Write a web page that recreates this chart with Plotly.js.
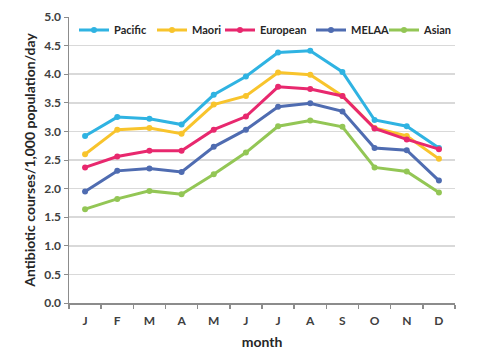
<!DOCTYPE html>
<html>
<head>
<meta charset="utf-8">
<script src="https://cdn.plot.ly/plotly-3.0.1.min.js"></script>
<style>
  html, body { margin: 0; padding: 0; background: #fff; }
  #chart { width: 480px; height: 355px; }
</style>
</head>
<body>
<div id="chart"></div>
<script>
const months = ['J','F','M','A','M','J','J','A','S','O','N','D'];
const pacific  = [2.92, 3.25, 3.22, 3.12, 3.64, 3.96, 4.38, 4.41, 4.04, 3.20, 3.09, 2.71];
const maori    = [2.60, 3.03, 3.06, 2.96, 3.47, 3.62, 4.03, 3.99, 3.62, 3.06, 2.92, 2.52];
const european = [2.37, 2.56, 2.66, 2.66, 3.03, 3.26, 3.78, 3.74, 3.62, 3.05, 2.86, 2.69];
const melaa    = [1.95, 2.31, 2.35, 2.29, 2.73, 3.03, 3.43, 3.49, 3.35, 2.71, 2.67, 2.14];
const asian    = [1.64, 1.82, 1.96, 1.90, 2.25, 2.63, 3.09, 3.19, 3.08, 2.37, 2.30, 1.93];

const seriesNames = ['Pacific','Maori','European','MELAA','Asian'];
const seriesData = [pacific, maori, european, melaa, asian];
const colors = ['#2fb3e2','#f8c42c','#e8286e','#4f6cb1','#93c655'];

const idx = months.map((m, i) => i);
const legendIds = ['legend','legend2','legend3','legend4','legend5'];
const traces = seriesData.map((d, k) => ({
  x: idx, y: d, name: seriesNames[k], type: 'scatter', mode: 'lines+markers',
  legend: legendIds[k],
  line: {color: colors[k], width: 3},
  marker: {color: colors[k], size: 6}
}));

const fontFam = 'Lato, "Open Sans", sans-serif';
const M = {l: 69, r: 25, t: 17, b: 52};
const W = 480, H = 355;
const plotW = W - M.l - M.r, plotH = H - M.t - M.b;
// left edge (px) of each legend box, laid out like the reference
const legendLeft = [74, 152, 220, 311, 384];
const legendMidY = 30;
const layout = {
  width: W, height: H,
  margin: M,
  paper_bgcolor: '#fff', plot_bgcolor: '#fff',
  font: {family: fontFam, color: '#404040', size: 12},
  showlegend: true,
  xaxis: {
    range: [-0.5, 11.5], tickvals: idx, ticktext: months,
    ticks: '', showgrid: false, zeroline: false,
    showline: true, linecolor: '#8c8c8c', linewidth: 1.5,
    tickfont: {family: fontFam, size: 12, color: '#404040', weight: 'bold'},
    ticklabelstandoff: 6,
    minor: {tick0: -0.5, dtick: 1, ticks: 'outside', ticklen: 4, tickcolor: '#8c8c8c', tickwidth: 1.5, showgrid: false},
    title: {text: 'month', font: {family: fontFam, size: 14, color: '#262626', weight: 'bold'}, standoff: 10}
  },
  yaxis: {
    range: [0, 5.0], dtick: 0.5, tickformat: '.1f',
    showgrid: true, gridcolor: '#d9d9d9', gridwidth: 1.5, zeroline: false,
    showline: true, linecolor: '#8c8c8c', linewidth: 1.5,
    ticks: 'outside', ticklen: 4, tickcolor: '#8c8c8c',
    tickfont: {family: fontFam, size: 12, color: '#404040', weight: 'bold'},
    title: {text: 'Antibiotic courses/1,000 population/day', font: {family: fontFam, size: 14, color: '#262626', weight: 'bold'}, standoff: 5}
  }
};
legendIds.forEach((id, k) => {
  layout[id] = {
    x: (legendLeft[k] - M.l) / plotW, xanchor: 'left',
    y: 1 - (legendMidY - M.t) / plotH, yanchor: 'middle',
    bgcolor: 'rgba(0,0,0,0)',
    font: {family: fontFam, size: 11, color: '#262626', weight: 'bold'}
  };
});

Plotly.newPlot('chart', traces, layout, {displayModeBar: false, staticPlot: true});
</script>
</body>
</html>
